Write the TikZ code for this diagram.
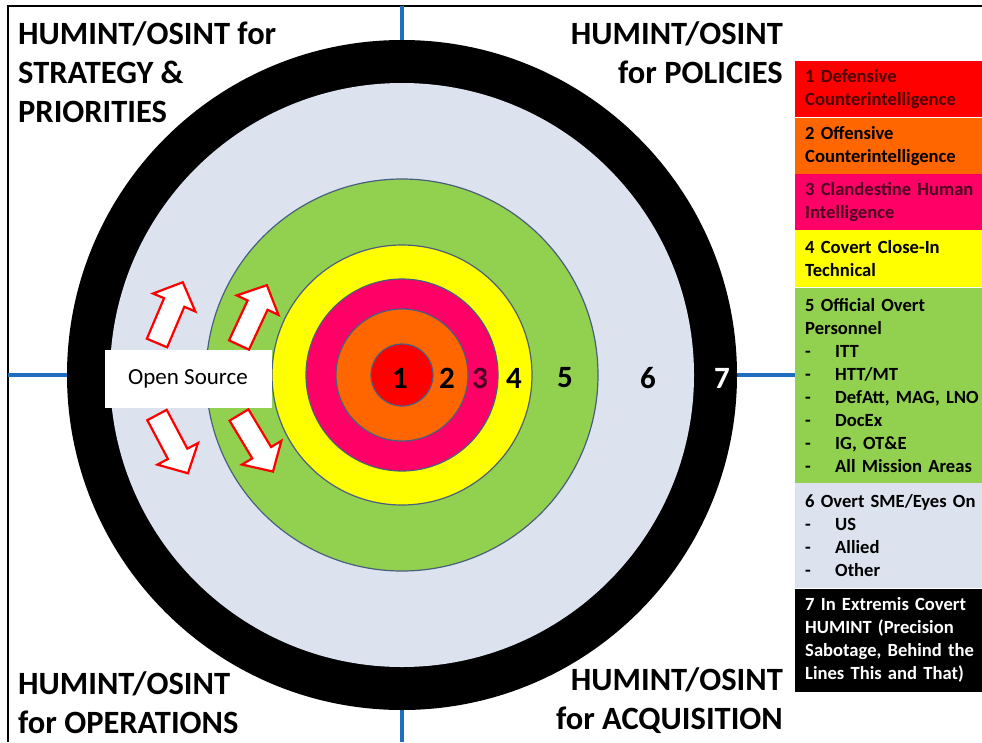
\documentclass[tikz,border=0pt]{standalone}
\usepackage{fontspec}
\setmainfont{Carlito}
\usetikzlibrary{positioning}
\definecolor{ringred}{HTML}{FF0000}
\definecolor{ringorange}{HTML}{FF6600}
\definecolor{ringpink}{HTML}{FF0066}
\definecolor{ringyellow}{HTML}{FFFF00}
\definecolor{ringgreen}{HTML}{92D050}
\definecolor{ringpale}{HTML}{DCE3EF}
\definecolor{ringedge}{HTML}{4A5E7E}
\definecolor{axisblue}{HTML}{1F6EC0}
\newcommand\cornerfont{\fontsize{32.5}{39}\selectfont\bfseries}
\newcommand\legendfont{\fontsize{18.6}{23}\selectfont\bfseries}
\newcommand\scorefont{\fontsize{31}{36}\selectfont\bfseries}
\newcommand\dashitem[1]{\makebox[30pt][l]{-}#1}

\tikzset{
  outarrow/.pic={
    \draw[ringred, line width=2.2pt, fill=white, line join=miter]
      (0,-11) -- (44,-11) -- (44,-23) -- (66,0) -- (44,23) -- (44,11) -- (0,11) -- cycle;
  },
}

\begin{document}
\begin{tikzpicture}[
    x=1pt, y=-1pt,
    ringline/.style={draw=ringedge, line width=1.2pt},
    axis/.style={draw=axisblue, line width=4.5pt},
    corner/.style={font=\cornerfont, inner sep=0pt},
    score/.style={font=\scorefont, inner sep=0pt},
    legend/.style={anchor=north west, text width=178pt, inner xsep=10pt,
                   inner ysep=2pt, align=left, font=\legendfont},
  ]
  \useasboundingbox (0,0) rectangle (982,742);

  % Frame and axis ticks
  \draw[line width=2pt] (8,742) -- (8,6) -- (982,6);
  \coordinate (ctr) at (402,375);
  \draw[axis] (402,6) -- (402,42);
  \draw[axis] (402,708) -- (402,742);
  \draw[axis] (8,375) -- (70,375);
  \draw[axis] (734,375) -- (795,375);

  % Target rings
  \fill[black] (ctr) circle[radius=335];
  \fill[ringpale] (ctr) circle[radius=292];
  \foreach \r/\col in {196/ringgreen, 130/ringyellow, 96/ringpink, 66/ringorange, 31/ringred}
    \draw[ringline, fill=\col] (ctr) circle[radius=\r];

  % Ring numbers
  \foreach \n/\x in {1/400, 2/447, 4/514, 5/565, 6/648}
    \node[score] (n\n) at (\x,378) {\n};
  \node[score, text=ringpink!30!black] (n3) at (480,378) {3};
  \node[score, text=white] (n7) at (722,378) {7};

  % Open source box with arrows
  \node[fill=white, minimum width=167pt, minimum height=58pt, inner sep=0pt,
        font=\fontsize{23}{26}\selectfont] (osint) at (188,379) {Open Source};
  \pic[rotate=67] at (157,343) {outarrow};
  \pic[rotate=65] at (239,345) {outarrow};
  \pic[rotate=-62] at (157,415) {outarrow};
  \pic[rotate=-59] at (239,415) {outarrow};

  % Corner titles
  \node[corner, anchor=north west, align=left] (strat) at (18,21)
    {HUMINT/OSINT for\\STRATEGY \&\\PRIORITIES};
  \node[corner, anchor=north east, align=right] (policy) at (783,21)
    {HUMINT/OSINT\\for POLICIES};
  \node[corner, anchor=south west, align=left] (ops) at (18,734)
    {HUMINT/OSINT\\for OPERATIONS};
  \node[corner, anchor=south east, align=right] (acq) at (783,734)
    {HUMINT/OSINT\\for ACQUISITION};

  % Legend column
  \node[legend, fill=ringred, minimum height=56pt, text=ringred!30!black] (l1) at (795,61)
    {1 Defensive\\Counterintelligence};
  \node[legend, fill=ringorange, minimum height=56pt, below=0pt of l1] (l2)
    {2 Offensive\\Counterintelligence};
  \node[legend, fill=ringpink, minimum height=56pt, below=0pt of l2, text=ringpink!30!black] (l3)
    {3 Clandestine Human\\Intelligence};
  \node[legend, fill=ringyellow, minimum height=57pt, below=0pt of l3] (l4)
    {4 Covert Close-In\\Technical};
  \node[legend, fill=ringgreen, minimum height=195pt, below=0pt of l4] (l5)
    {5 Official Overt\\Personnel\\\dashitem{ITT}\\\dashitem{HTT/MT}\\
     \dashitem{DefAtt, MAG, LNO}\\\dashitem{DocEx}\\\dashitem{IG, OT\&E}\\
     \dashitem{All Mission Areas}};
  \node[legend, fill=ringpale, minimum height=105pt, below=0pt of l5] (l6)
    {6 Overt SME/Eyes On\\\dashitem{US}\\\dashitem{Allied}\\\dashitem{Other}};
  \node[legend, fill=black, text=white, minimum height=103pt, below=0pt of l6] (l7)
    {7 In Extremis Covert\\HUMINT (Precision\\Sabotage, Behind the\\Lines This and That)};

\end{tikzpicture}
\end{document}
